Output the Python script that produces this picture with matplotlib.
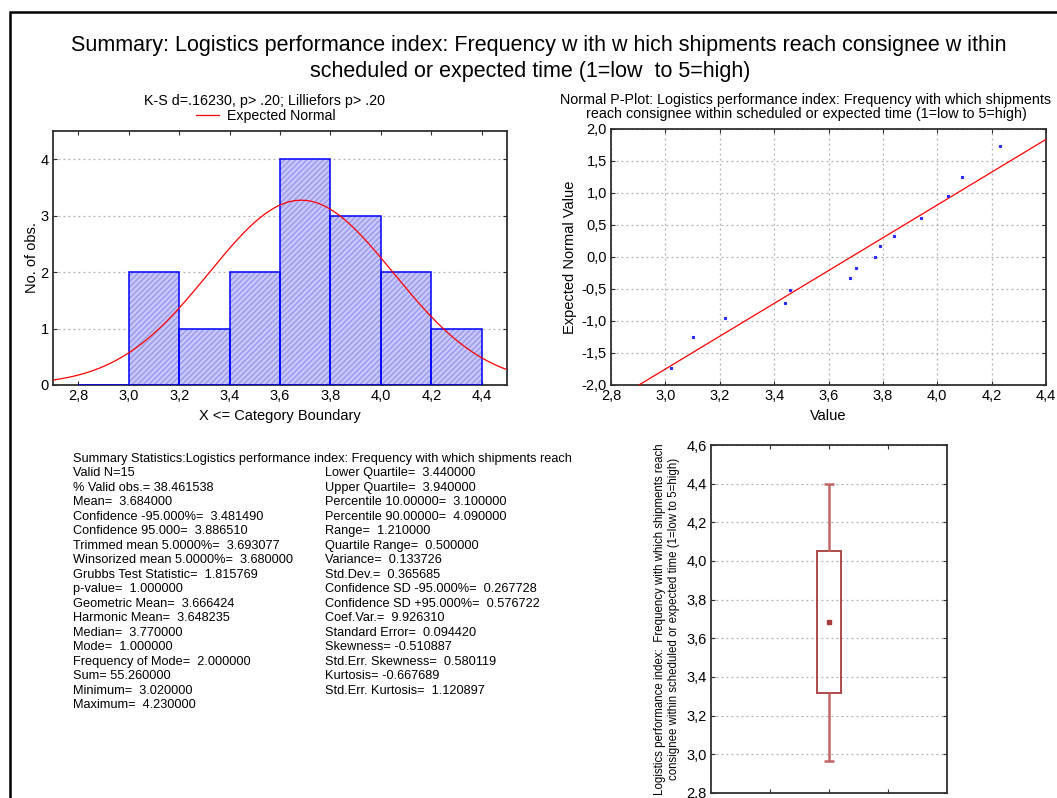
import numpy as np
import matplotlib
matplotlib.use('Agg')
import matplotlib.pyplot as plt
from matplotlib.patches import Rectangle
from matplotlib.ticker import FuncFormatter

plt.rcParams['font.family'] = ['Liberation Sans', 'DejaVu Sans']

values = [3.02, 3.10, 3.22, 3.44, 3.46, 3.68, 3.70, 3.77, 3.79, 3.84,
          3.94, 3.94, 4.04, 4.09, 4.23]
bin_edges = [2.8, 3.0, 3.2, 3.4, 3.6, 3.8, 4.0, 4.2, 4.4]

# P-plot: distinct values and their expected normal values
pp_values = [3.02, 3.10, 3.22, 3.44, 3.46, 3.68, 3.70, 3.77, 3.79, 3.84,
             3.94, 4.04, 4.09, 4.23]
pp_expected = [-1.74, -1.245, -0.946, -0.714, -0.515, -0.335, -0.165, 0.0,
               0.165, 0.335, 0.611, 0.946, 1.245, 1.739]

title_lines = ['Summary: Logistics performance index: Frequency w ith w hich shipments reach consignee w ithin',
               'scheduled or expected time (1=low  to 5=high)']
hist_title = 'K-S d=.16230, p> .20; Lilliefors p> .20'
pp_title = ('Normal P-Plot: Logistics performance index: Frequency with which shipments\n'
            'reach consignee within scheduled or expected time (1=low to 5=high)')
box_ylabel = ('Logistics performance index:  Frequency with which shipments reach\n'
              'consignee within scheduled or expected time (1=low to 5=high)')

stats_header = 'Summary Statistics:Logistics performance index: Frequency with which shipments reach'
stats_left = ['Valid N=15', '% Valid obs.= 38.461538', 'Mean=  3.684000',
              'Confidence -95.000%=  3.481490', 'Confidence 95.000=  3.886510',
              'Trimmed mean 5.0000%=  3.693077', 'Winsorized mean 5.0000%=  3.680000',
              'Grubbs Test Statistic=  1.815769', 'p-value=  1.000000',
              'Geometric Mean=  3.666424', 'Harmonic Mean=  3.648235',
              'Median=  3.770000', 'Mode=  1.000000', 'Frequency of Mode=  2.000000',
              'Sum= 55.260000', 'Minimum=  3.020000', 'Maximum=  4.230000']
stats_right = ['Lower Quartile=  3.440000', 'Upper Quartile=  3.940000',
               'Percentile 10.00000=  3.100000', 'Percentile 90.00000=  4.090000',
               'Range=  1.210000', 'Quartile Range=  0.500000', 'Variance=  0.133726',
               'Std.Dev.=  0.365685', 'Confidence SD -95.000%=  0.267728',
               'Confidence SD +95.000%=  0.576722', 'Coef.Var.=  9.926310',
               'Standard Error=  0.094420', 'Skewness= -0.510887',
               'Std.Err. Skewness=  0.580119', 'Kurtosis= -0.667689',
               'Std.Err. Kurtosis=  1.120897']

W, H = 1057, 798
fig = plt.figure(figsize=(W / 100, H / 100), dpi=100)
fig.patch.set_facecolor('white')


def fx(px):
    return px / W


def fy(py):
    return 1 - py / H


comma = FuncFormatter(lambda v, p: f'{v:.1f}'.replace('.', ','))
spine_col = '#303030'
grid_kw = dict(color='#b0b0b0', linestyle=(0, (1.5, 2.5)), linewidth=0.9)


def style_axes(ax):
    for s in ax.spines.values():
        s.set_color(spine_col)
        s.set_linewidth(1.3)
    ax.tick_params(direction='in', top=True, right=True, length=3,
                   color=spine_col, labelsize=10.5, pad=3)


# page frame
fig.patches.append(Rectangle((fx(10), -0.1), 1.2, fy(12) + 0.1, transform=fig.transFigure,
                             fill=False, edgecolor='black', linewidth=1.8))

fig.text(fx(539), fy(45), title_lines[0], ha='center', va='center', fontsize=15.5)
fig.text(fx(530), fy(72), title_lines[1], ha='center', va='center', fontsize=15.5)

# ---- histogram ----
mean = np.mean(values)
sd = np.std(values, ddof=1)
ax1 = fig.add_axes([fx(53), fy(385), fx(507 - 53), (385 - 131) / H])
ax1.hist(values, bins=bin_edges, color='#c8c8fc', edgecolor='#9898ee', hatch='//////',
         linewidth=0, zorder=2)
ax1.hist(values, bins=bin_edges, fill=False, edgecolor='#0000ff', linewidth=1.1, zorder=3)
xs = np.linspace(2.7, 4.5, 300)
pdf = len(values) * 0.2 / (sd * np.sqrt(2 * np.pi)) * np.exp(-0.5 * ((xs - mean) / sd) ** 2)
ln, = ax1.plot(xs, pdf, color='#ff0000', linewidth=0.9, zorder=4)
ax1.set_xlim(2.7, 4.5)
ax1.set_ylim(0, 4.5)
ax1.set_xticks([2.8, 3.0, 3.2, 3.4, 3.6, 3.8, 4.0, 4.2, 4.4])
ax1.set_yticks([0, 1, 2, 3, 4])
ax1.xaxis.set_major_formatter(comma)
ax1.yaxis.grid(True, **grid_kw)
ax1.set_axisbelow(True)
style_axes(ax1)
ax1.set_xlabel('X <= Category Boundary', fontsize=10.5, labelpad=4)
ax1.set_ylabel('No. of obs.', fontsize=10.5, labelpad=1)
fig.text(fx(265), fy(101), hist_title, ha='center', va='center', fontsize=10.3)
fig.legend([ln], ['Expected Normal'], loc='center', bbox_to_anchor=(fx(266), fy(116)),
           frameon=False, fontsize=10.2, handlelength=1.6, handletextpad=0.6,
           borderpad=0, borderaxespad=0)

# ---- normal P-plot ----
ax2 = fig.add_axes([fx(611), fy(385), fx(1046 - 611), (385 - 129) / H])
slope, icpt = np.polyfit(pp_values, pp_expected, 1)
lx = np.array([2.8, 4.4])
ax2.plot(lx, slope * lx + icpt, color='#ff0000', linewidth=0.9, zorder=3)
ax2.plot(pp_values, pp_expected, linestyle='none', marker='s', markersize=1.6,
         color='#2a2aff', markeredgewidth=0.8, zorder=4)
ax2.set_xlim(2.8, 4.4)
ax2.set_ylim(-2.0, 2.0)
ax2.set_xticks([2.8, 3.0, 3.2, 3.4, 3.6, 3.8, 4.0, 4.2, 4.4])
ax2.set_yticks([-2.0, -1.5, -1.0, -0.5, 0.0, 0.5, 1.0, 1.5, 2.0])
ax2.xaxis.set_major_formatter(comma)
ax2.yaxis.set_major_formatter(comma)
ax2.grid(True, **grid_kw)
ax2.set_axisbelow(True)
style_axes(ax2)
ax2.set_xlabel('Value', fontsize=10.5, labelpad=4)
ax2.set_ylabel('Expected Normal Value', fontsize=10.5, labelpad=3)
fig.text(fx(806), fy(107), pp_title, ha='center', va='center', fontsize=10.3,
         linespacing=0.95)

# ---- box plot (mean, +-SD, +-1.96*SD) ----
ax3 = fig.add_axes([fx(711), fy(793), fx(947 - 711), (793 - 445) / H])
ax3.bar([2], [2 * sd], bottom=[mean - sd], width=0.4, fill=False,
        edgecolor='#a83a3a', linewidth=1.3, zorder=3)
ax3.vlines([2, 2], [mean + sd, mean - 1.96 * sd], [mean + 1.96 * sd, mean - sd],
           color='#c06868', linewidth=1.8, zorder=3)
ax3.hlines([mean + 1.96 * sd, mean - 1.96 * sd], 2 - 0.09, 2 + 0.09,
           color='#c06868', linewidth=1.8, zorder=3)
ax3.plot([2], [mean], marker='s', markersize=2.6, color='#a83a3a', zorder=4)
ax3.set_xlim(0, 4)
ax3.set_ylim(2.8, 4.6)
ax3.set_xticks([1, 2, 3])
ax3.set_xticklabels([])
ax3.set_yticks([2.8, 3.0, 3.2, 3.4, 3.6, 3.8, 4.0, 4.2, 4.4, 4.6])
ax3.yaxis.set_major_formatter(comma)
ax3.yaxis.grid(True, **grid_kw)
ax3.set_axisbelow(True)
style_axes(ax3)
ax3.set_ylabel(box_ylabel, fontsize=8.3, labelpad=5, linespacing=1.2)

# ---- summary statistics text ----
step = 14.47
fs = 9.2
fig.text(fx(73), fy(459), stats_header, ha='left', va='center', fontsize=fs)
for i, s in enumerate(stats_left):
    fig.text(fx(73), fy(459 + step * (i + 1)), s, ha='left', va='center', fontsize=fs)
for i, s in enumerate(stats_right):
    fig.text(fx(325), fy(459 + step * (i + 1)), s, ha='left', va='center', fontsize=fs)

fig.savefig('out.png', dpi=100)
